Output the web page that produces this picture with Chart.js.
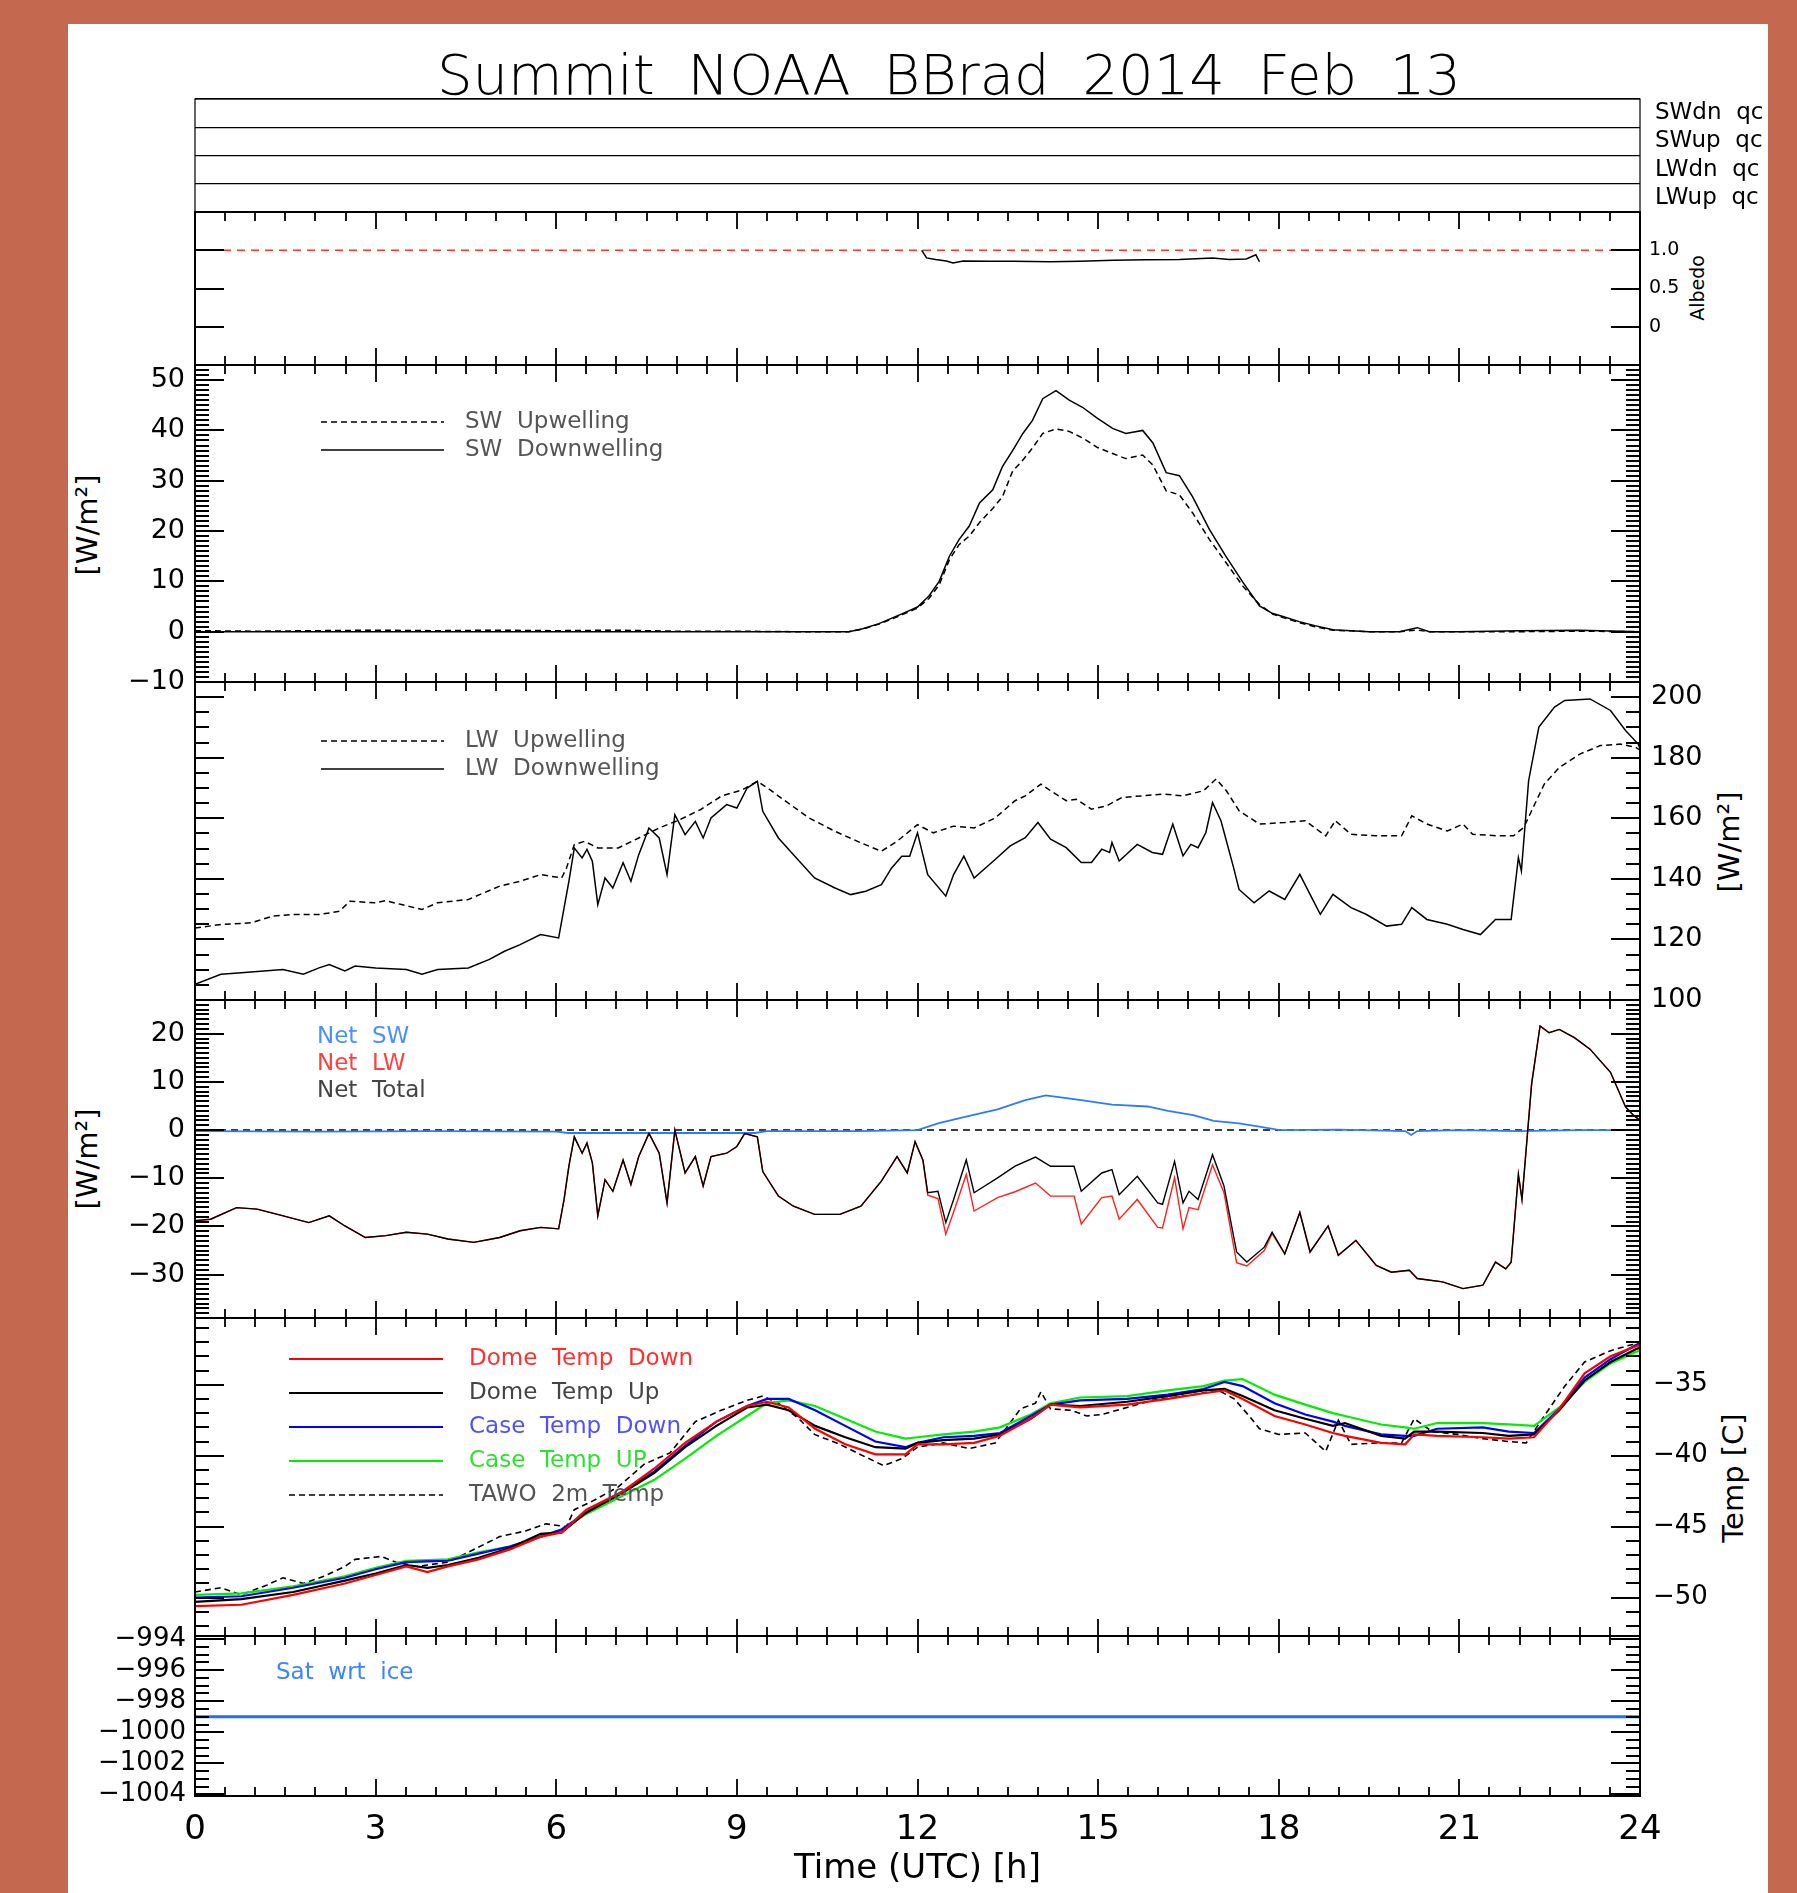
<!DOCTYPE html>
<html>
<head>
<meta charset="utf-8">
<title>Summit NOAA BBrad 2014 Feb 13</title>
<script src="https://cdn.jsdelivr.net/npm/chart.js@4.4.1/dist/chart.umd.min.js"></script>
<style>
  html, body { margin: 0; padding: 0; background: #c4694f; }
  #page { position: relative; width: 1797px; height: 1893px; overflow: hidden; background: #c4694f; }
  #sheet { position: absolute; left: 68px; top: 24px; width: 1700px; height: 1869px; background: #fff; }
  canvas { position: absolute; left: 0; }
  .txt { position: absolute; white-space: pre; color: #000; font-family: 'DejaVu Sans', 'Liberation Sans', sans-serif; line-height: 1; }
  .rot { transform: translate(-50%, -50%) rotate(-90deg); }
</style>
</head>
<body>
<div id="page">
  <div id="sheet"></div>
  <div id="title" class="txt" style="left:437px;top:47px;font-size:56px;font-weight:200">Summit NOAA BBrad 2014 Feb 13</div>
  <div class="txt rot" style="left:87px;top:525px;font-size:29px">[W/m²]</div>
  <div class="txt rot" style="left:87px;top:1159px;font-size:29px">[W/m²]</div>
  <div class="txt rot" style="left:1729px;top:842px;font-size:29px">[W/m²]</div>
  <div class="txt rot" style="left:1733px;top:1478px;font-size:29px">Temp [C]</div>
  <div class="txt rot" style="left:1697px;top:288px;font-size:19px">Albedo</div>
  <canvas id="cQc"></canvas>
  <canvas id="cAlb"></canvas>
  <canvas id="cSw"></canvas>
  <canvas id="cLw"></canvas>
  <canvas id="cNet"></canvas>
  <canvas id="cTemp"></canvas>
  <canvas id="cSat"></canvas>
</div>
<script>
// ---- data (time in hours UTC) ----
var qcLabels = ['SWdn  qc', 'SWup  qc', 'LWdn  qc', 'LWup  qc'];

var albTime = [12.07, 12.15, 12.3, 12.48, 12.59, 12.76, 13.2, 13.6, 14.2, 14.7, 15.25, 15.8, 16.35, 16.9, 17.18, 17.46, 17.62, 17.68];
var albedo  = [1.0, 0.90, 0.88, 0.86, 0.835, 0.86, 0.855, 0.855, 0.85, 0.855, 0.87, 0.875, 0.88, 0.9, 0.88, 0.885, 0.94, 0.85];
var albRefTime = [0, 24];
var albRef = [1, 1];

var swTime = [0, 1, 2, 3, 4, 5, 6, 7, 8, 9, 10, 10.86, 11.09, 11.36, 11.75, 12.0, 12.19, 12.36, 12.53, 12.69, 12.86,
  13.03, 13.25, 13.41, 13.58, 13.75, 13.91, 14.08, 14.3, 14.52, 14.74, 14.99, 15.24, 15.46, 15.74, 15.91,
  16.13, 16.35, 16.57, 16.85, 17.12, 17.4, 17.68, 17.9, 18.07, 18.34, 18.6, 18.9, 19.5, 20, 20.3, 20.5, 21, 22, 23, 24];
var swDown = [0, 0, 0, 0, 0, 0, 0, 0, 0, 0, 0, 0, 0.6, 1.6, 3.6, 4.9, 7.1, 10, 15, 18.3, 21,
  25.6, 28.2, 32.8, 36, 39.4, 42, 46.3, 47.9, 46, 44.6, 42.4, 40.4, 39.4, 40, 37.5,
  31.6, 31, 26.8, 20.3, 15, 9.9, 5.1, 3.6, 3.0, 2.0, 1.2, 0.4, 0, 0, 0.8, 0, 0, 0.2, 0.3, 0];
var swUp = [0.2, 0.1, 0.2, 0.3, 0.2, 0.3, 0.2, 0.3, 0.1, 0.1, 0, 0, 0.5, 1.5, 3.4, 4.7, 6.6, 9.3, 14.3, 17.3, 19,
  21.7, 24.5, 26.8, 31.9, 34.1, 36.5, 39.4, 40.3, 39.8, 38.5, 36.6, 35.4, 34.4, 35.1, 33.1,
  28, 27.2, 23.6, 18.3, 13.8, 9.1, 5.4, 3.5, 2.8, 1.8, 1.0, 0.3, 0, 0, 0.3, 0, 0, 0, 0.1, 0];

var lwUpTime = [0, 0.43, 0.94, 1.29, 1.63, 2.06, 2.4, 2.57, 3.0, 3.17, 3.43, 3.77, 4.03, 4.54, 4.8, 5.06, 5.4, 5.74,
  6.09, 6.17, 6.3, 6.47, 6.69, 7.03, 7.37, 7.71, 8.06, 8.4, 8.74, 9.09, 9.34, 9.51, 9.77, 10.2, 10.63, 11.06,
  11.4, 11.66, 12.0, 12.26, 12.6, 12.94, 13.29, 13.62, 13.79, 14.05, 14.21, 14.47, 14.64, 14.89, 15.14, 15.4,
  15.73, 16.07, 16.41, 16.75, 16.96, 17.13, 17.34, 17.68, 18.1, 18.44, 18.78, 18.94, 19.2, 19.62, 20.04, 20.21,
  20.46, 20.8, 21.06, 21.22, 21.65, 21.9, 22.07, 22.2, 22.41, 22.66, 23.0, 23.34, 23.67, 23.93, 24.0];
var lwUp = [123.8, 124.9, 125.5, 127.7, 128.2, 128.2, 129.3, 132.6, 132.1, 132.8, 131.5, 129.9, 132.1, 133.2, 135.4, 137.6, 139.2, 141.4,
  140.3, 143.6, 151.3, 152.4, 150.2, 150.2, 153.5, 156.8, 159.6, 162.9, 167.3, 169.4, 172.2, 170, 166.2, 160.1, 155.7, 151.9,
  149.1, 152.4, 157.9, 155.2, 157.4, 156.8, 160.1, 165.8, 167.4, 171.3, 169.1, 165.8, 166.3, 163, 164.1, 166.9,
  167.4, 168, 167.4, 169.1, 173, 169.1, 162.5, 158.1, 158.6, 159.2, 154.2, 159.2, 154.7, 154.2, 154.2, 160.8,
  158.1, 155.8, 158.1, 154.7, 154.2, 154.2, 157, 162.5, 171.3, 176.8, 181.2, 184, 184.5, 183.4, 182.5];

var lwDnTime = [0, 0.43, 0.77, 1.46, 1.8, 2.06, 2.23, 2.49, 2.66, 3.0, 3.51, 3.77, 4.03, 4.54, 4.89, 5.14, 5.4, 5.74, 6.04,
  6.13, 6.21, 6.3, 6.43, 6.51, 6.6, 6.69, 6.81, 6.94, 7.11, 7.24, 7.37, 7.54, 7.71, 7.84, 7.97, 8.14, 8.31, 8.44,
  8.57, 8.83, 9.0, 9.17, 9.34, 9.43, 9.69, 9.94, 10.29, 10.63, 10.89, 11.14, 11.4, 11.57, 11.74, 11.87, 12.0,
  12.17, 12.47, 12.6, 12.77, 12.94, 13.29, 13.54, 13.79, 14.0, 14.21, 14.47, 14.72, 14.89, 15.06, 15.19, 15.23,
  15.35, 15.65, 15.9, 16.07, 16.24, 16.41, 16.54, 16.66, 16.79, 16.9, 17.04, 17.25, 17.34, 17.59, 17.84, 18.1,
  18.35, 18.52, 18.69, 18.9, 19.2, 19.45, 19.79, 20.04, 20.21, 20.46, 20.8, 21.06, 21.35, 21.6, 21.86, 21.98,
  22.03, 22.15, 22.32, 22.58, 22.75, 23.17, 23.51, 23.76, 23.97, 24.0];
var lwDn = [105.2, 108.5, 109, 110.1, 108.5, 110.6, 111.7, 109.6, 111.2, 110.6, 110.1, 108.5, 110.1, 110.6, 113.4, 116.1, 118.3, 121.6, 120.5,
  130.4, 139.2, 150.2, 146.9, 149.7, 145.8, 131.5, 140.3, 137, 145.3, 139.2, 148, 156.8, 153.5, 141.4, 161.2, 154.6, 159, 153.5,
  160.1, 164.5, 163.4, 170, 172.2, 162.3, 153.5, 148, 140.3, 137, 134.8, 135.9, 138.1, 143.6, 147.5, 147.5, 155.2,
  141.4, 134.3, 141.4, 147.5, 140.3, 146.4, 150.9, 153.6, 158.6, 153.1, 150.3, 145.4, 145.4, 149.8, 148.7, 152,
  145.9, 151.4, 148.7, 148.1, 158.1, 147.6, 151.4, 150.3, 155.3, 165.2, 159.2, 143.7, 136.5, 132.1, 136, 133.2,
  141.5, 134.9, 128.3, 134.9, 130.5, 128.3, 124.4, 125, 130.5, 126.6, 125, 123.3, 121.6, 126.6, 126.6, 147,
  142.6, 172.4, 190.1, 196.7, 198.9, 199.4, 195.6, 189, 184.5, 183];

var netTime = [0, 0.26, 0.69, 1.03, 1.37, 1.89, 2.23, 2.49, 2.83, 3.17, 3.51, 3.86, 4.2, 4.63, 5.06, 5.4, 5.74, 6.04,
  6.13, 6.21, 6.3, 6.43, 6.51, 6.6, 6.69, 6.81, 6.94, 7.11, 7.24, 7.37, 7.54, 7.71, 7.84, 7.97, 8.14, 8.31, 8.44,
  8.57, 8.83, 9.0, 9.13, 9.34, 9.43, 9.69, 9.94, 10.29, 10.71, 11.06, 11.4, 11.66, 11.83, 11.96, 12.09, 12.17,
  12.34, 12.47, 12.6, 12.81, 12.94, 13.33, 13.62, 13.96, 14.21, 14.6, 14.72, 15.06, 15.23, 15.35, 15.65, 15.99,
  16.07, 16.27, 16.41, 16.51, 16.66, 16.9, 17.09, 17.3, 17.47, 17.76, 17.89, 18.1, 18.35, 18.52, 18.82, 18.99,
  19.28, 19.62, 19.87, 20.17, 20.3, 20.72, 21.06, 21.39, 21.6, 21.77, 21.86, 21.98, 22.04, 22.2, 22.34, 22.49,
  22.66, 22.91, 23.17, 23.51, 23.76, 23.89, 24];
var netTotal = [-18.8, -18.5, -16.1, -16.4, -17.5, -19.2, -17.8, -19.9, -22.3, -21.9, -21.2, -21.6, -22.6, -23.3, -22.3, -20.9, -20.2, -20.5,
  -14.4, -7.5, -1.4, -4.8, -2.7, -6.8, -17.8, -10.3, -12.7, -6.2, -11.3, -5.5, -0.7, -4.8, -15.1, 0, -8.9, -5.5, -11.6,
  -5.5, -4.8, -3.4, -0.7, -1.4, -8.6, -13.7, -15.8, -17.5, -17.5, -15.8, -10.6, -5.5, -8.9, -2.4, -6.2, -13,
  -12.7, -19.2, -14.4, -6.2, -13, -9.9, -7.5, -5.6, -7.5, -7.5, -12.7, -8.9, -8.2, -13.4, -9.6, -15.1,
  -15.4, -6.5, -15.1, -12.7, -14.4, -5.1, -11.6, -25.3, -27.4, -24.3, -21.2, -25.7, -17.1, -25.3, -19.9, -26,
  -22.9, -28.1, -29.5, -29.1, -30.8, -31.5, -32.9, -32.2, -27.4, -28.8, -27.4, -9.2, -14.4, 9.6, 21.6, 20.2,
  20.9, 19.2, 16.8, 12, 4.8, 3.1, 2];
var netLW = [-18.8, -18.5, -16.1, -16.4, -17.5, -19.2, -17.8, -19.9, -22.3, -21.9, -21.2, -21.6, -22.6, -23.3, -22.3, -20.9, -20.2, -20.5,
  -14.4, -7.5, -1.4, -4.8, -2.7, -6.8, -17.8, -10.3, -12.7, -6.2, -11.3, -5.5, -0.7, -4.8, -15.1, 0, -8.9, -5.5, -11.6,
  -5.5, -4.8, -3.4, -0.7, -1.4, -8.6, -13.7, -15.8, -17.5, -17.5, -15.8, -10.6, -5.5, -8.9, -2.4, -6.3, -13.5,
  -14.2, -21.6, -17, -9.2, -16.8, -14.0, -12.8, -11.0, -13.7, -13.7, -19.5, -14.0, -13.7, -18.5, -14.4, -20.2,
  -20.3, -9.9, -20.5, -16.1, -16.5, -7.2, -13, -27.5, -28.2, -25, -21.5, -25.7, -17.1, -25.3, -19.9, -26,
  -22.9, -28.1, -29.5, -29.1, -30.8, -31.5, -32.9, -32.2, -27.4, -28.8, -27.4, -9.2, -14.4, 9.6, 21.6, 20.2,
  20.9, 19.2, 16.8, 12, 4.8, 3.1, 2];
var netSwTime = [0, 2, 4, 6, 6.2, 7.5, 9.3, 9.5, 11, 12.0, 12.34, 12.77, 13.33, 13.79, 14.13, 14.38, 14.72, 15.23, 15.82, 16.16,
  16.58, 16.92, 17.34, 17.68, 18.02, 19, 20.1, 20.2, 20.3, 21, 22, 23, 24];
var netSW = [-0.2, -0.3, -0.2, -0.3, -0.6, -0.6, -0.6, -0.2, -0.2, 0, 1.4, 2.7, 4.3, 6.2, 7.2, 6.8, 6.2, 5.3, 4.9, 4.0,
  3.1, 1.9, 1.4, 0.7, 0, 0.1, -0.2, -1.0, -0.2, 0, -0.2, 0, 0];
var netZeroTime = [0, 24];
var netZero = [0, 0];

var tempTime = [0, 0.77, 1.63, 2.49, 3.0, 3.51, 3.86, 4.2, 4.71, 5.23, 5.74, 6.09, 6.5, 7.11, 7.63, 8.14, 8.66, 9.17, 9.5, 9.86,
  10.3, 10.8, 11.3, 11.8, 12.0, 12.43, 12.94, 13.37, 13.88, 14.21, 14.7, 15.48, 16.16, 16.75, 17.1, 17.4, 17.93, 18.44,
  18.9, 19.1, 19.7, 20.1, 20.25, 20.63, 21.39, 21.82, 22.24, 22.66, 23.08, 23.51, 23.93, 24];
var domeTempDown = [-50.6, -50.5, -49.8, -49, -48.4, -47.8, -48.2, -47.8, -47.3, -46.6, -45.7, -45.4, -43.8, -42.5, -40.9, -39.1, -37.6, -36.5, -36.2, -36.6,
  -38.1, -39.2, -39.9, -39.9, -39.2, -39.2, -39.1, -38.6, -37.4, -36.4, -36.6, -36.4, -36.0, -35.6, -35.4, -36.0, -37.2, -37.8,
  -38.4, -38.6, -39.1, -39.2, -38.5, -38.6, -38.7, -38.8, -38.7, -36.7, -34.2, -33.0, -32.3, -32.2];
var domeTempUp = [-50.3, -50.1, -49.6, -48.8, -48.3, -47.7, -47.9, -47.7, -47.2, -46.5, -45.5, -45.4, -44.0, -42.6, -41.2, -39.4, -37.9, -36.6, -36.4, -36.8,
  -37.9, -38.7, -39.4, -39.5, -39.1, -38.9, -38.8, -38.5, -37.4, -36.4, -36.5, -36.2, -35.8, -35.4, -35.3, -35.8, -36.8, -37.4,
  -37.9, -37.7, -38.6, -38.8, -38.3, -38.3, -38.4, -38.6, -38.5, -36.8, -34.7, -33.4, -32.5, -32.4];
var caseTempDown = [-50, -49.9, -49.3, -48.6, -48, -47.5, -47.45, -47.4, -46.9, -46.4, -45.7, -45.2, -44.0, -42.5, -41.1, -39.3, -37.6, -36.5, -36.0, -36.0,
  -36.8, -37.9, -39.0, -39.4, -39.1, -38.7, -38.6, -38.4, -37.2, -36.4, -36.1, -36.0, -35.7, -35.3, -34.8, -35.1, -36.3, -37.1,
  -37.6, -37.9, -38.5, -38.6, -38.6, -38.1, -38.0, -38.3, -38.4, -36.7, -34.5, -33.2, -32.2, -32.1];
var caseTempUp = [-49.8, -49.7, -49.2, -48.5, -47.9, -47.4, -47.35, -47.3, -46.8, -46.4, -45.7, -45.2, -44.1, -42.8, -41.7, -40.2, -38.6, -37.2, -36.3, -36.1,
  -36.5, -37.4, -38.3, -38.8, -38.7, -38.5, -38.3, -38.0, -37.1, -36.3, -35.9, -35.8, -35.4, -35.1, -34.7, -34.6, -35.7, -36.4,
  -37.0, -37.2, -37.8, -38.0, -38.1, -37.7, -37.7, -37.8, -37.9, -36.6, -34.8, -33.5, -32.7, -32.6];
var tawoTime = [0, 0.43, 0.77, 1.2, 1.46, 1.8, 2.14, 2.49, 2.66, 3.09, 3.34, 3.69, 4.2, 4.54, 5.06, 5.49, 5.83, 6.17, 6.3, 6.6,
  7.03, 7.46, 7.89, 8.31, 8.74, 9.17, 9.43, 9.69, 10.03, 10.29, 10.71, 11.14, 11.44, 11.74, 12.0, 12.43, 12.86, 13.29, 13.71, 13.96,
  14.05, 14.21, 14.55, 14.81, 15.06, 15.48, 15.9, 16.58, 17.0, 17.26, 17.51, 17.68, 18.0, 18.44, 18.78, 18.99, 19.2, 19.62, 20.04, 20.25,
  20.55, 20.97, 21.39, 21.82, 22.11, 22.41, 22.75, 23.08, 23.51, 23.84, 24];
var tawoTemp = [-49.6, -49.3, -49.8, -49.1, -48.6, -49.0, -48.5, -47.8, -47.3, -47.1, -47.5, -47.8, -47.5, -46.8, -45.7, -45.3, -44.8, -45.0, -43.8, -43.2,
  -42.2, -40.6, -39.8, -37.6, -36.8, -36.1, -35.8, -36.3, -37.4, -38.5, -39.2, -40.1, -40.7, -40.2, -39.4, -39.1, -39.5, -39.1, -36.7, -36.3,
  -35.5, -36.7, -36.8, -37.2, -37.1, -36.6, -36.1, -35.7, -35.4, -36.0, -37.2, -38.1, -38.5, -38.4, -39.7, -37.5, -39.2, -39.1, -39.1, -37.4,
  -38.3, -38.5, -38.8, -39.0, -39.1, -37.2, -35.1, -33.4, -32.6, -32.2, -32.1];

var satTime = [0, 24];
var satIce = [-999, -999];

// ---- layout ----
var FONT = "'DejaVu Sans', 'Liberation Sans', sans-serif";
var LEFT_W = 195, RIGHT_W = 157;

function pts(t, v) { return t.map(function (x, i) { return {x: x, y: v[i]}; }); }
function minus(v) { return String(v).replace('-', '\u2212'); }

function line(label, t, v, color, width, dash) {
  return {label: label, data: pts(t, v), borderColor: color, borderWidth: width,
    borderDash: dash || [], pointRadius: 0, tension: 0, fill: false};
}

function xHidden() { return {type: 'linear', min: 0, max: 24, display: false}; }

function yAxis(pos, min, max, step, size, pad) {
  return {
    type: 'linear', position: pos, min: min, max: max,
    grid: {display: false, drawTicks: false}, border: {display: false},
    ticks: {stepSize: step, includeBounds: false, autoSkip: false, color: '#000', padding: pad,
      font: {family: FONT, size: size}, callback: function (v) { return minus(v); }},
    afterFit: function (s) { s.width = pos === 'left' ? LEFT_W : RIGHT_W; }
  };
}

// frame + IDL-style inward ticks
var idlAxes = {
  id: 'idlAxes',
  afterDatasetsDraw: function (chart, args, o) {
    var ctx = chart.ctx, a = chart.chartArea;
    ctx.save();
    ctx.strokeStyle = '#000';
    ctx.lineWidth = o.frame;
    ctx.strokeRect(a.left, a.top, a.right - a.left, a.bottom - a.top);
    ctx.lineWidth = 1.8;
    ctx.beginPath();
    if (o.xTicks) {
      var xs = chart.scales.x;
      for (var k = 0; k <= 48; k++) {
        var px = Math.round(xs.getPixelForValue(k / 2));
        var len = k % 6 === 0 ? 17 : 9;
        ctx.moveTo(px, a.top); ctx.lineTo(px, a.top + len);
        ctx.moveTo(px, a.bottom); ctx.lineTo(px, a.bottom - len);
      }
    }
    if (o.yMinor) {
      var ys = chart.scales.y;
      var n0 = Math.ceil(ys.min / o.yMinor - 1e-9), n1 = Math.floor(ys.max / o.yMinor + 1e-9);
      for (var n = n0; n <= n1; n++) {
        var v = n * o.yMinor, r = v / o.yMajor;
        var l = Math.abs(r - Math.round(r)) < 1e-6 ? 29 : 14;
        var py = Math.round(ys.getPixelForValue(v));
        ctx.moveTo(a.left, py); ctx.lineTo(a.left + l, py);
        ctx.moveTo(a.right, py); ctx.lineTo(a.right - l, py);
      }
    }
    ctx.stroke();
    ctx.restore();
  }
};

// legend drawn inside the plot, the way IDL does it
var idlLegend = {
  id: 'idlLegend',
  afterDraw: function (chart, args, o) {
    if (!o.rows) return;
    var ctx = chart.ctx, top = chart.canvas.offsetTop;
    ctx.save();
    ctx.font = o.size + 'px ' + FONT;
    ctx.textBaseline = 'middle';
    for (var i = 0; i < o.rows.length; i++) {
      var r = o.rows[i], y = o.y + i * o.dy - top;
      if (r.ds >= 0) {
        var ds = chart.data.datasets[r.ds];
        ctx.strokeStyle = ds.borderColor;
        ctx.lineWidth = ds.borderWidth;
        ctx.setLineDash(ds.borderDash || []);
        ctx.beginPath(); ctx.moveTo(o.x0, y); ctx.lineTo(o.x1, y); ctx.stroke();
        ctx.setLineDash([]);
      }
      ctx.fillStyle = r.color;
      ctx.fillText(r.text, o.tx, y);
    }
    ctx.restore();
  }
};

function panel(id, top, bottom, cfg) {
  var pt = cfg.padTop !== undefined ? cfg.padTop : 40;
  var pb = cfg.padBottom !== undefined ? cfg.padBottom : 40;
  var c = document.getElementById(id);
  c.width = 1797;
  c.height = (bottom - top) + pt + pb + (cfg.extra || 0);
  c.style.top = (top - pt) + 'px';
  var scales = {x: cfg.x || xHidden()};
  for (var k in cfg.scales) scales[k] = cfg.scales[k];
  return new Chart(c, {
    type: 'line',
    data: {datasets: cfg.datasets},
    options: {
      responsive: false, animation: false, devicePixelRatio: 1, events: [],
      layout: {padding: {top: pt, bottom: pb, left: cfg.left ? 0 : LEFT_W, right: cfg.right ? 0 : RIGHT_W}},
      scales: scales,
      plugins: {legend: {display: false}, tooltip: {enabled: false},
        idlAxes: cfg.axes, idlLegend: cfg.legend || {}}
    },
    plugins: [idlAxes, idlLegend]
  });
}

// title fitted to the width it has in the picture
var title = document.getElementById('title');
title.style.wordSpacing = ((1024 - title.getBoundingClientRect().width) / 5) + 'px';

// qc strips
panel('cQc', 99, 212, {
  right: true, datasets: [],
  scales: {y: {
    type: 'linear', position: 'right', min: 0, max: 4, reverse: true,
    afterBuildTicks: function (s) { s.ticks = [0, 0.5, 1, 1.5, 2, 2.5, 3, 3.5, 4].map(function (v) { return {value: v}; }); },
    grid: {drawTicks: false, lineWidth: 1.2,
      color: function (c) { return c.tick && c.tick.value % 1 === 0 ? '#000' : 'rgba(0,0,0,0)'; }},
    border: {display: false},
    ticks: {autoSkip: false, color: '#000', padding: 15, font: {family: FONT, size: 23},
      callback: function (v) { return v % 1 === 0.5 ? qcLabels[Math.floor(v)] : ''; }},
    afterFit: function (s) { s.width = RIGHT_W; }
  }},
  axes: {frame: 1.2, xTicks: false}
});

// albedo
panel('cAlb', 212, 365, {
  right: true,
  datasets: [
    line('Albedo', albTime, albedo, '#000', 1.5),
    line('1.0', albRefTime, albRef, '#ff3030', 1.5, [8, 6])
  ],
  scales: {y: {
    type: 'linear', position: 'right', min: -0.5, max: 1.5,
    afterBuildTicks: function (s) { s.ticks = [0, 0.5, 1].map(function (v) { return {value: v}; }); },
    grid: {display: false, drawTicks: false}, border: {display: false},
    ticks: {autoSkip: false, color: '#000', padding: 9, font: {family: FONT, size: 19},
      callback: function (v) { return v === 0 ? '0' : v.toFixed(1); }},
    afterFit: function (s) { s.width = RIGHT_W; }
  }},
  axes: {frame: 2, xTicks: true, yMinor: 0.5, yMajor: 0.5}
});

// shortwave
panel('cSw', 365, 682, {
  left: true,
  datasets: [
    line('SW Upwelling', swTime, swUp, '#000', 1.5, [6, 4]),
    line('SW Downwelling', swTime, swDown, '#000', 1.5)
  ],
  scales: {y: yAxis('left', -10, 53, 10, 27, 10)},
  axes: {frame: 2, xTicks: true, yMinor: 1, yMajor: 10},
  legend: {x0: 321, x1: 444, tx: 465, y: 422, dy: 28, size: 23, rows: [
    {ds: 0, text: 'SW  Upwelling', color: '#555'},
    {ds: 1, text: 'SW  Downwelling', color: '#555'}
  ]}
});

// longwave
panel('cLw', 682, 1000, {
  right: true,
  datasets: [
    line('LW Upwelling', lwUpTime, lwUp, '#000', 1.5, [6, 4]),
    line('LW Downwelling', lwDnTime, lwDn, '#000', 1.5)
  ],
  scales: {y: yAxis('right', 100, 205, 20, 27, 11)},
  axes: {frame: 2, xTicks: true, yMinor: 5, yMajor: 20},
  legend: {x0: 321, x1: 444, tx: 465, y: 741, dy: 28, size: 23, rows: [
    {ds: 0, text: 'LW  Upwelling', color: '#555'},
    {ds: 1, text: 'LW  Downwelling', color: '#555'}
  ]}
});

// net radiation
panel('cNet', 1000, 1318, {
  left: true,
  datasets: [
    line('Net Total', netTime, netTotal, '#000', 1.4),
    line('Net LW', netTime, netLW, '#ff2020', 1.4),
    line('Net SW', netSwTime, netSW, '#2a7cff', 1.8),
    line('zero', netZeroTime, netZero, '#000', 1.5, [7, 5])
  ],
  scales: {y: yAxis('left', -39, 27, 10, 27, 10)},
  axes: {frame: 2, xTicks: true, yMinor: 1, yMajor: 10},
  legend: {tx: 317, y: 1037, dy: 27, size: 23, rows: [
    {ds: -1, text: 'Net  SW', color: '#4a90ff'},
    {ds: -1, text: 'Net  LW', color: '#ff4040'},
    {ds: -1, text: 'Net  Total', color: '#444'}
  ]}
});

// temperatures
panel('cTemp', 1318, 1636, {
  right: true,
  datasets: [
    line('Dome Temp Down', tempTime, domeTempDown, '#ff0000', 2.2),
    line('Dome Temp Up', tempTime, domeTempUp, '#000', 2.2),
    line('Case Temp Down', tempTime, caseTempDown, '#0000ff', 2.2),
    line('Case Temp UP', tempTime, caseTempUp, '#00ee00', 2.2),
    line('TAWO 2m Temp', tawoTime, tawoTemp, '#000', 1.6, [6, 4])
  ],
  scales: {y: yAxis('right', -52.7, -30.3, 5, 26, 13)},
  axes: {frame: 2, xTicks: true, yMinor: 1, yMajor: 5},
  legend: {x0: 289, x1: 443, tx: 469, y: 1359, dy: 34, size: 23, rows: [
    {ds: 0, text: 'Dome  Temp  Down', color: '#ff3030'},
    {ds: 1, text: 'Dome  Temp  Up', color: '#444'},
    {ds: 2, text: 'Case  Temp  Down', color: '#5050ff'},
    {ds: 3, text: 'Case  Temp  UP', color: '#30e030'},
    {ds: 4, text: 'TAWO  2m  Temp', color: '#555'}
  ]}
});

// saturation + time axis
panel('cSat', 1636, 1796, {
  left: true, padBottom: 0, extra: 97,
  datasets: [line('Sat wrt ice', satTime, satIce, '#1f6fff', 3)],
  x: {
    type: 'linear', min: 0, max: 24, position: 'bottom',
    grid: {display: false, drawTicks: false}, border: {display: false},
    ticks: {stepSize: 3, autoSkip: false, maxRotation: 0, minRotation: 0, padding: 14,
      color: '#000', font: {family: FONT, size: 34}},
    title: {display: true, text: 'Time (UTC) [h]', color: '#000',
      font: {family: FONT, size: 34}, padding: {top: 0, bottom: 3}},
    afterFit: function (s) { s.height = 97; }
  },
  scales: {y: yAxis('left', -1004.1, -993.8, 2, 26, 9)},
  axes: {frame: 2, xTicks: true, yMinor: 0.5, yMajor: 2},
  legend: {tx: 276, y: 1673, dy: 0, size: 23, rows: [
    {ds: -1, text: 'Sat  wrt  ice', color: '#3a85ff'}
  ]}
});
</script>
</body>
</html>
